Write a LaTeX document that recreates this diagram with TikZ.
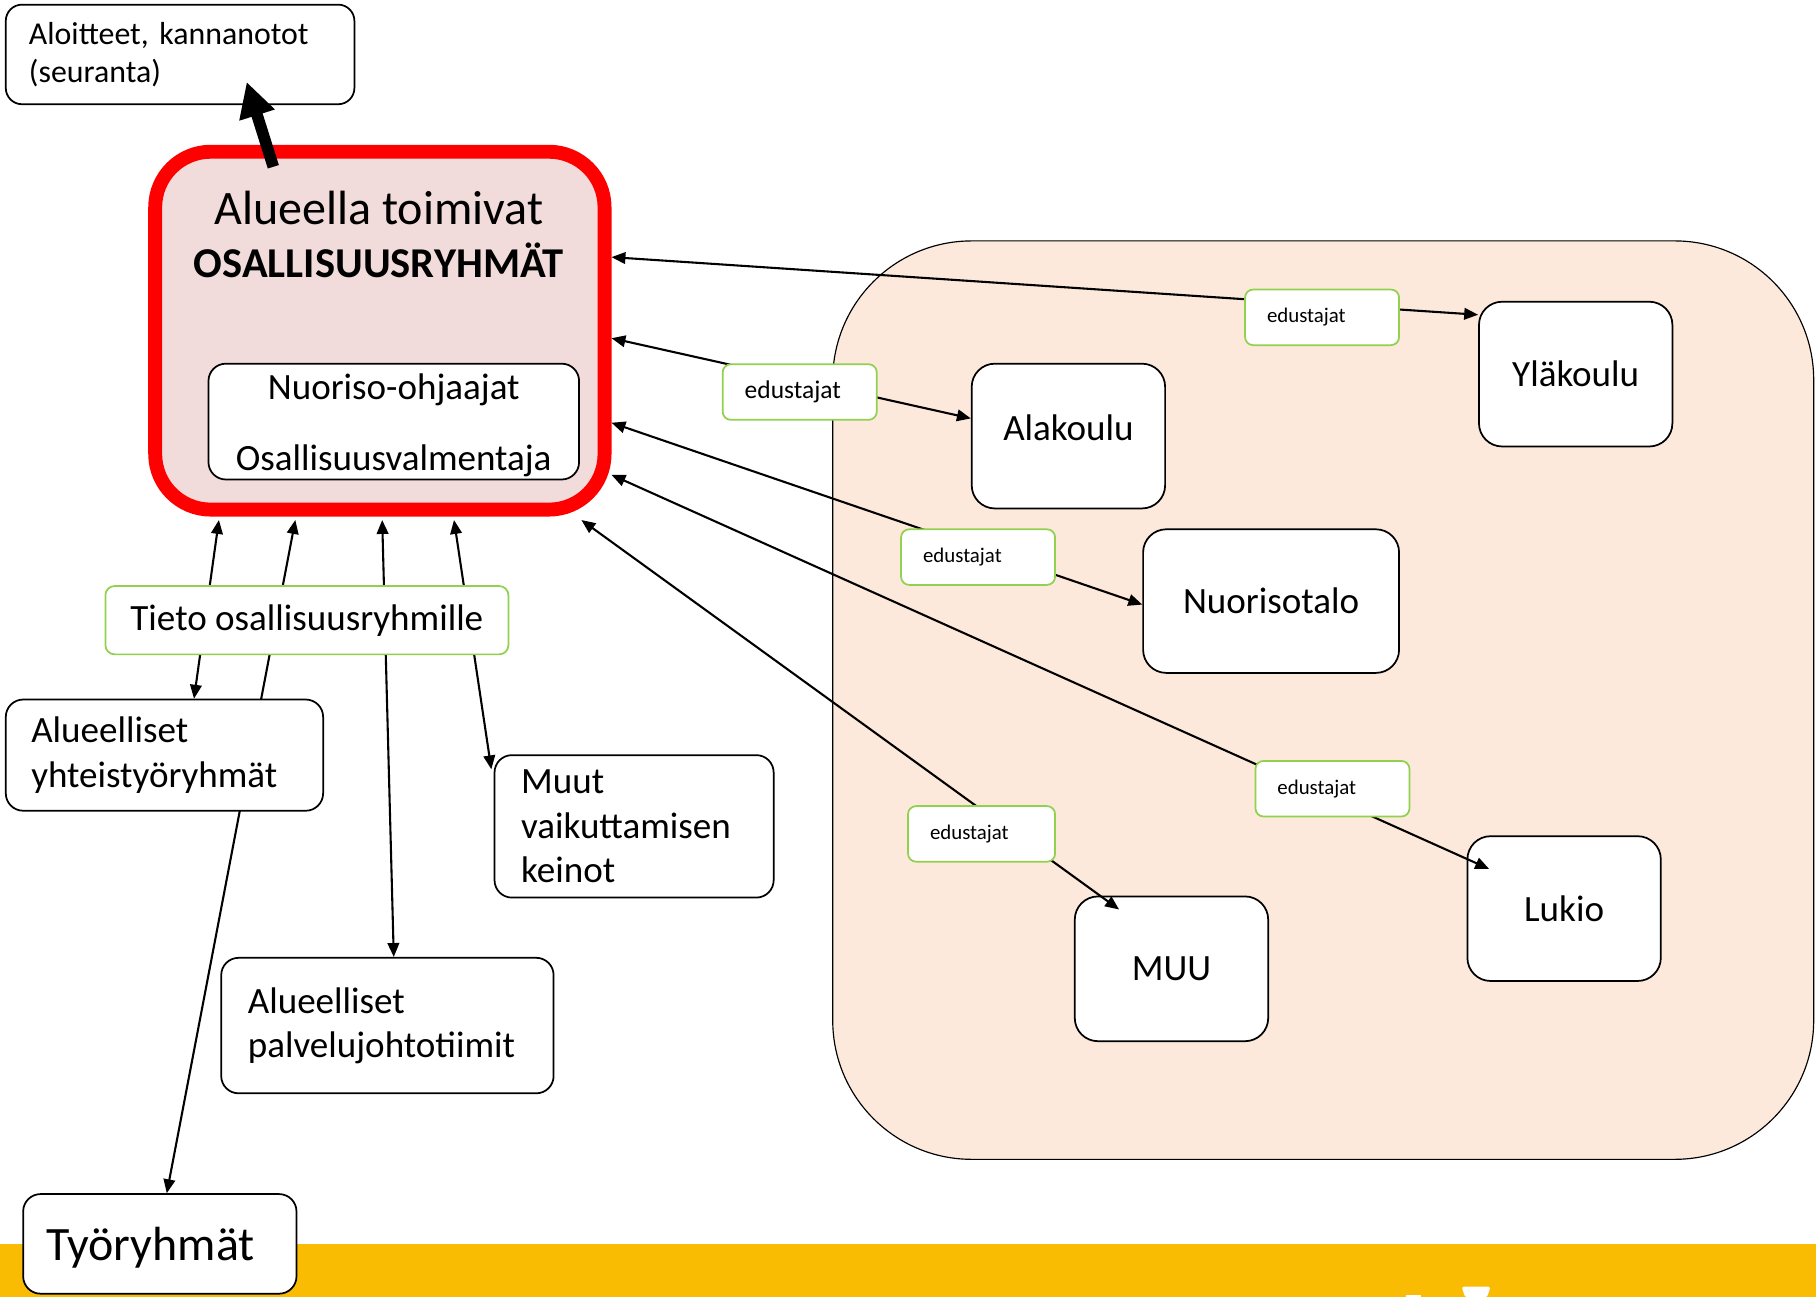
\documentclass[tikz,border=0pt]{standalone}
\usepackage{fontspec}
\setmainfont{Carlito}
\usepackage{tikz}
\usetikzlibrary{
    arrows.meta,
    backgrounds
}
\pgfdeclarelayer{bg}
\pgfdeclarelayer{mid}
\pgfsetlayers{bg,mid,main}
\definecolor{ryhmapuna}{RGB}{255,0,0}
\definecolor{ryhmatausta}{RGB}{242,220,219}
\definecolor{aluetausta}{RGB}{252,233,219}
\definecolor{vihrea}{RGB}{146,208,80}
\definecolor{keltainen}{RGB}{250,188,2}
\tikzset{
    laatikko/.style={draw, fill=white, line width=1.5pt, rounded corners=15pt,
        inner xsep=22pt, align=left, font=\fontsize{32}{38.4}\selectfont},
    koulu/.style={draw, fill=white, line width=1.5pt, rounded corners=20pt,
        minimum width=167pt, minimum height=125pt, font=\fontsize{32}{38.4}\selectfont},
    edu/.style={draw=vihrea, fill=white, line width=1.5pt, rounded corners=7pt,
        minimum height=48pt, inner xsep=19pt, text width=95pt, align=left,
        font=\fontsize{18}{21.6}\selectfont},
    yhteys/.style={{Triangle[length=12pt,width=10pt]}-{Triangle[length=12pt,width=10pt]},
        line width=1.8pt},
    paksu/.style={-{Triangle[length=30pt,width=30pt]}, line width=10pt}
}

\begin{document}
\begin{tikzpicture}[x=1pt, y=-1pt]
    \useasboundingbox (0,0) rectangle (1568,1120);
    % tausta
    \begin{pgfonlayer}{bg}
        \fill[keltainen] (0,1074) rectangle (1568,1120);
        \fill[white, rounded corners=2pt] (1262,1111) -- (1287,1111) -- (1284,1120) -- (1265,1120) -- cycle;
        \fill[white] (1214,1118) rectangle (1227,1120);
        \draw[fill=aluetausta, line width=1pt, rounded corners=120pt] (719,208) rectangle (1566,1001);
        \node[draw=ryhmapuna, fill=ryhmatausta, line width=12pt, rounded corners=48pt,
            minimum width=388pt, minimum height=309pt] (osal) at (328,285.5) {};
    \end{pgfonlayer}

    % osallisuusryhmat
    \node[anchor=base, font=\fontsize{41.5}{49.8}\selectfont] (otsikko) at (327,193.5) {Alueella toimivat};
    \node[anchor=base, font=\fontsize{36.7}{44}\selectfont\bfseries] (osalotsikko) at (327,239.7) {OSALLISUUSRYHMÄT};
    \node[draw, fill=white, line width=1.5pt, rounded corners=15pt,
        minimum width=320pt, minimum height=100pt] (ohjaajat) at (340,364) {};
    \node[anchor=base, font=\fontsize{32}{38.4}\selectfont] (ohjaajat1) at (340,345) {Nuoriso-ohjaajat};
    \node[anchor=base, font=\fontsize{32}{38.4}\selectfont] (ohjaajat2) at (340,406.4) {Osallisuusvalmentaja};

    \node[laatikko, text width=261pt, inner xsep=20pt, minimum height=86pt, rounded corners=14pt,
        font=\fontsize{27.5}{33}\selectfont] (aloitteet) at (155.5,47) {Aloitteet, kannanotot\\(seuranta)};
    \draw[paksu] ([xshift=-92pt,yshift=-19pt]osal.north) -- ([xshift=57.5pt,yshift=20pt]aloitteet.south);

    % vasen puoli
    \node[draw=vihrea, fill=white, line width=1.5pt, rounded corners=8pt, minimum width=348pt,
        minimum height=59pt, font=\fontsize{32}{38.4}\selectfont] (tieto) at (265,535.5) {Tieto osallisuusryhmille};
    \node[laatikko, text width=230pt, minimum height=96pt] (yhteis) at (142,652) {Alueelliset\\yhteistyöryhmät};
    \node[laatikko, text width=195pt, inner xsep=23pt, minimum height=123pt] (muut) at (547.5,713.5) {Muut\\vaikuttamisen\\keinot};
    \node[laatikko, text width=241pt, inner xsep=23pt, minimum height=117pt] (palvelu) at (334.5,885.5) {Alueelliset\\palvelujohtotiimit};
    \node[laatikko, text width=196pt, inner xsep=20pt, minimum height=86pt, text depth=0pt,
        font=\fontsize{41.4}{49.7}\selectfont] (tyoryhmat) at (138,1074) {Työryhmät};

    % koulut
    \node[koulu] (ylakoulu) at (1360.5,323) {Yläkoulu};
    \node[koulu, text depth=14pt] (alakoulu) at (922.5,376.5) {Alakoulu};
    \node[koulu, minimum width=221pt, minimum height=124pt] (nuorisotalo) at (1097.5,519) {Nuorisotalo};
    \node[koulu] (lukio) at (1350.5,784.5) {Lukio};
    \node[koulu] (muu) at (1011.5,836.5) {MUU};

    \draw[yhteys] ([yshift=63.5pt]osal.east) -- ([yshift=-12pt]ylakoulu.north west);
    \draw[yhteys] ([yshift=-6.5pt]osal.east) -- ([yshift=-48pt]alakoulu.north west);
    \draw[yhteys] ([yshift=-79.5pt]osal.east) -- ([yshift=-3pt]nuorisotalo.west);
    \draw[yhteys] ([yshift=-124.5pt]osal.east) -- ([xshift=19.5pt,yshift=-29pt]lukio.north west);
    \draw[yhteys] ([xshift=174pt,yshift=-3pt]osal.south) -- ([xshift=39pt,yshift=-12pt]muu.north west);

    \node[edu] (eduyla) at (1141.5,274) {edustajat};
    \node[edu, font=\fontsize{22}{26.4}\selectfont] (eduala) at (690.5,338.5) {edustajat};
    \node[edu] (edunuo) at (844.5,481) {edustajat};
    \node[edu] (eduluk) at (1150.5,681) {edustajat};
    \node[edu, text width=89pt] (edumuu) at (847.5,720) {edustajat};

    % alas
    \begin{pgfonlayer}{mid}
        \draw[yhteys] ([xshift=25.5pt]yhteis.north) -- ([xshift=-139pt,yshift=-3pt]osal.south);
        \draw[yhteys] ([xshift=6pt]tyoryhmat.north) -- ([xshift=-73pt,yshift=-3pt]osal.south);
        \draw[yhteys] ([xshift=5.5pt]palvelu.north) -- ([xshift=2pt,yshift=-3pt]osal.south);
        \draw[yhteys] ([xshift=-2pt,yshift=-13pt]muut.north west) -- ([xshift=64pt,yshift=-3pt]osal.south);
    \end{pgfonlayer}
\end{tikzpicture}
\end{document}
